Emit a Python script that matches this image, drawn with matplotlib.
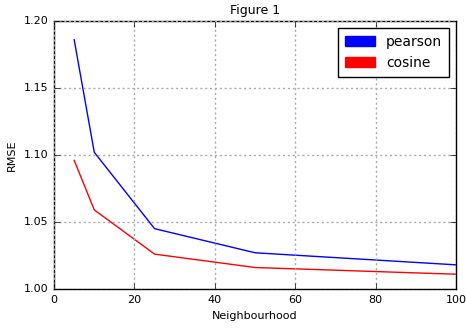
import matplotlib
matplotlib.use("Agg")
import matplotlib.pyplot as plt
import matplotlib.patches as mpatches

# neighbourhood sizes and rmse per similarity measure
neighbourhood = [5, 10, 25, 50, 100]
pearson = [1.186, 1.102, 1.045, 1.027, 1.018]
cosine = [1.096, 1.059, 1.026, 1.016, 1.011]

plt.style.use("classic")
plt.rcParams["font.size"] = 8

fig = plt.figure(figsize=(4.66, 3.28), dpi=100, facecolor="white")
ax = fig.add_axes([0.116, 0.119, 0.863, 0.817])

ax.plot(neighbourhood, pearson, color="blue", lw=1)
ax.plot(neighbourhood, cosine, color="red", lw=1)

ax.set_xlim(0, 100)
ax.set_ylim(1.00, 1.20)
ax.set_xticks([0, 20, 40, 60, 80, 100])
ax.set_yticks([1.00, 1.05, 1.10, 1.15, 1.20])
ax.tick_params(labelsize=8)
ax.grid(True, color="#aaaaaa", linestyle=(0, (1.5, 2)), lw=1)

ax.set_title("Figure 1", fontsize=9)
ax.set_xlabel("Neighbourhood", fontsize=8)
ax.set_ylabel("RMSE", fontsize=8)

handles = [mpatches.Patch(color="blue", label="pearson"),
           mpatches.Patch(color="red", label="cosine")]
ax.legend(handles=handles, loc="upper right", fontsize=10, fancybox=False,
          handlelength=2.2, handletextpad=0.8, labelspacing=0.5,
          borderpad=0.5, borderaxespad=0.5)

fig.savefig("out.png", dpi=100, facecolor="white")
